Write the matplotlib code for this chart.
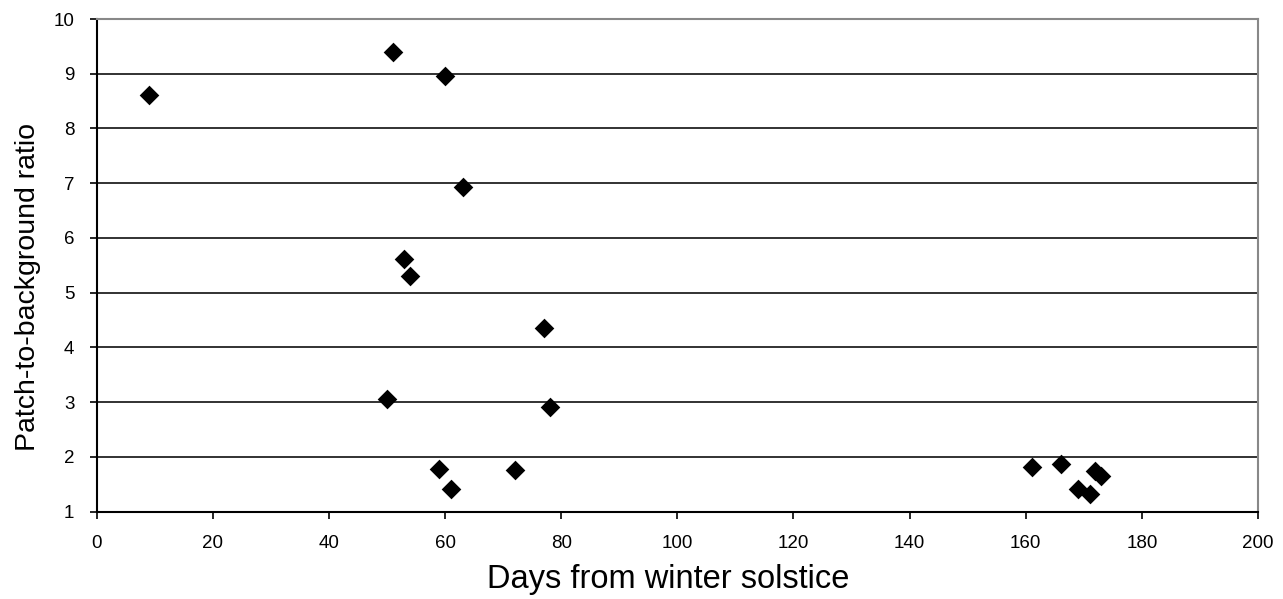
import matplotlib
matplotlib.use("Agg")
import matplotlib.pyplot as plt

days = [9, 51, 60, 63, 53, 54, 77, 50, 78, 59, 61, 72, 161, 166, 169, 171, 172, 173]
ratio = [8.61, 9.39, 8.95, 6.94, 5.61, 5.31, 4.36, 3.05, 2.92, 1.78, 1.41, 1.77,
         1.82, 1.88, 1.41, 1.32, 1.75, 1.66]
xticks = [0, 20, 40, 60, 80, 100, 120, 140, 160, 180, 200]
yticks = [1, 2, 3, 4, 5, 6, 7, 8, 9, 10]

plt.rcParams['font.family'] = ['Liberation Sans', 'DejaVu Sans']

fig = plt.figure(figsize=(12.83, 5.99), dpi=100)
ax = fig.add_axes([96.7/1283, 1 - 511.7/599, (1258 - 96.7)/1283, (511.7 - 19)/599])

ax.set_xlim(0, 200)
ax.set_ylim(1, 10)
ax.set_xticks(xticks)
ax.set_yticks(yticks)
ax.yaxis.grid(True, color='#222222', linewidth=1.3)
ax.set_axisbelow(True)

ax.scatter(days, ratio, marker='D', s=100, color='black', zorder=3, linewidths=0)

for s in ['left', 'bottom']:
    ax.spines[s].set_color('black')
    ax.spines[s].set_linewidth(1.5)
for s in ['top', 'right']:
    ax.spines[s].set_color('#888888')
    ax.spines[s].set_linewidth(1.5)

ax.tick_params(axis='both', direction='out', length=5, width=1.2, labelsize=13.5,
               colors='black')
ax.tick_params(axis='x', pad=12)
ax.tick_params(axis='y', pad=11)

ax.set_xlabel('Days from winter solstice', fontsize=23.5)
ax.set_ylabel('Patch-to-background ratio', fontsize=20.5)
ax.xaxis.set_label_coords(0.492, -0.106)
ax.yaxis.set_label_coords(-0.048, 0.456)

fig.savefig('out.png', dpi=100)
